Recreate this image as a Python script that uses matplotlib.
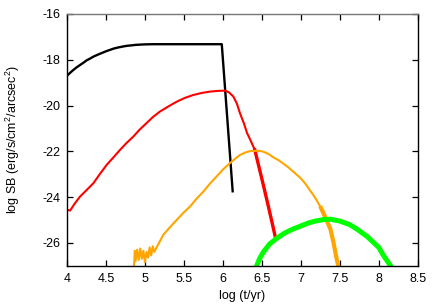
"""Surface brightness evolution, log SB versus log age."""

import matplotlib
matplotlib.use("Agg")
import matplotlib.pyplot as plt

plt.rcParams["font.family"] = ["Liberation Sans", "DejaVu Sans"]
plt.rcParams["mathtext.fontset"] = "custom"
plt.rcParams["mathtext.rm"] = "Liberation Sans"

# black curve
black_t = [4.0, 4.04, 4.08, 4.12, 4.167, 4.21, 4.25, 4.30, 4.34, 4.40, 4.45, 4.50, 4.55, 4.60,
           4.66, 4.72, 4.77, 4.83, 4.88, 4.93, 4.98, 5.1, 5.2, 5.5, 5.8, 5.986, 6.127]
black_sb = [-18.7, -18.57, -18.45, -18.34, -18.23, -18.13, -18.03, -17.94, -17.86, -17.77, -17.7,
            -17.63, -17.57, -17.51, -17.46, -17.42, -17.39, -17.37, -17.35, -17.34, -17.33, -17.32,
            -17.32, -17.32, -17.32, -17.32, -23.8]

# red curve
red_t = [4.0, 4.04, 4.10, 4.167, 4.25, 4.34, 4.42, 4.51, 4.60, 4.68, 4.76, 4.85, 4.93, 5.02,
         5.10, 5.19, 5.30, 5.41, 5.51, 5.62, 5.73, 5.84, 5.94, 6.03, 6.08, 6.135, 6.18, 6.22,
         6.27, 6.31, 6.36, 6.41, 6.5, 6.58, 6.67]
red_sb = [-24.56, -24.59, -24.28, -23.98, -23.7, -23.39, -23.0, -22.59, -22.25, -21.94, -21.65,
          -21.36, -21.06, -20.77, -20.51, -20.27, -20.04, -19.83, -19.67, -19.54, -19.45, -19.39,
          -19.36, -19.35, -19.43, -19.61, -19.92, -20.34, -20.78, -21.2, -21.56, -21.94, -23.2,
          -24.35, -25.7]

# orange curve (noisy at the faint end)
orange_t = [4.86, 4.87, 4.88, 4.90, 4.92, 4.94, 4.96, 4.98, 5.00, 5.02, 5.04, 5.06, 5.08, 5.10,
            5.12, 5.15, 5.236, 5.32, 5.408, 5.49, 5.58, 5.66, 5.75, 5.83, 5.92, 6.0, 6.09, 6.16,
            6.22, 6.29, 6.35, 6.435, 6.50, 6.55, 6.60, 6.65, 6.72, 6.78, 6.84, 6.90, 6.99, 7.05,
            7.10, 7.15, 7.20, 7.26, 7.31, 7.38, 7.42, 7.46, 7.48]
orange_sb = [-27.0, -26.35, -26.8, -26.3, -26.75, -26.25, -26.7, -26.35, -26.85, -26.4, -26.65,
             -26.2, -26.55, -26.15, -26.4, -26.2, -25.65, -25.32, -25.0, -24.7, -24.41, -24.08,
             -23.76, -23.43, -23.1, -22.8, -22.52, -22.32, -22.16, -22.05, -21.99, -21.98, -22.0,
             -22.06, -22.15, -22.27, -22.4, -22.55, -22.7, -22.88, -23.15, -23.38, -23.62,
             -23.86, -24.12, -24.48, -24.85, -25.4, -26.0, -26.7, -27.0]

# green curve
green_t = [6.435, 6.47, 6.52, 6.60, 6.70, 6.80, 6.90, 6.99, 7.10, 7.20, 7.30, 7.38, 7.50,
           7.63, 7.72, 7.80, 7.85, 7.90, 8.00, 8.06, 8.12, 8.15]
green_sb = [-27.0, -26.7, -26.4, -26.05, -25.78, -25.56, -25.4, -25.28, -25.13, -25.04, -24.98,
            -24.97, -25.05, -25.21, -25.4, -25.6, -25.72, -25.88, -26.2, -26.55, -26.85, -27.0]

x_ticks = [4, 4.5, 5, 5.5, 6, 6.5, 7, 7.5, 8, 8.5]
x_labels = ["4", "4.5", "5", "5.5", "6", "6.5", "7", "7.5", "8", "8.5"]
y_ticks = [-26, -24, -22, -20, -18, -16]
y_labels = ["-26", "-24", "-22", "-20", "-18", "-16"]

fig = plt.figure(figsize=(4.36, 3.05), dpi=100)
ax = fig.add_axes([0.1537, 0.1289, 0.8043, 0.8252])

ax.plot(black_t, black_sb, color="black", lw=1.7, solid_capstyle="butt")
ax.plot(red_t, red_sb, color="#ff0000", lw=1.5)
ax.plot(red_t[-4:], red_sb[-4:], color="#ff0000", lw=2.4)
ax.plot(orange_t, orange_sb, color="#ffa500", lw=1.5)
ax.plot(orange_t[-6:], orange_sb[-6:], color="#ffa500", lw=3.0)
ax.plot(green_t, green_sb, color="#00ff00", lw=3.6)

ax.set_xlim(4, 8.5)
ax.set_ylim(-27, -16)
ax.set_xticks(x_ticks, x_labels)
ax.set_yticks(y_ticks, y_labels)
ax.tick_params(direction="in", length=4, width=0.9, labelsize=9, top=True, right=True,
               labeltop=False, labelright=False)
ax.tick_params(axis="x", pad=5.0)
ax.tick_params(axis="y", pad=5.0)
for side in ax.spines.values():
    side.set_linewidth(1.0)
ax.spines["top"].set_color("#777777")

fig.text(242 / 436, 1 - 296 / 305, "log (t/yr)", fontsize=9, ha="center", va="center")
fig.text(13 / 436, 1 - 140 / 305, r"log SB (erg/s/cm$^2$/arcsec$^2$)", fontsize=9,
         rotation=90, ha="center", va="center")

fig.savefig("out.png", dpi=100)
